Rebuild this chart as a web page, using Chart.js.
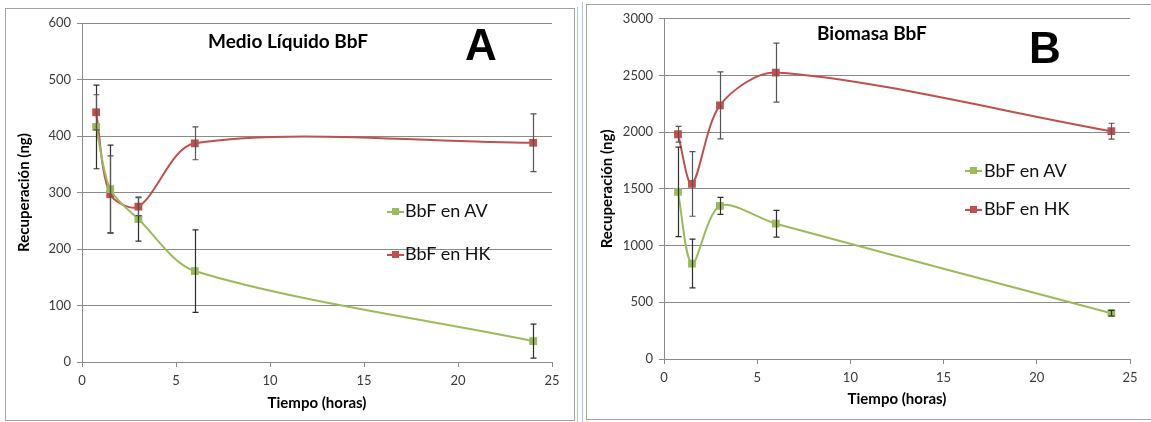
<!DOCTYPE html>
<html>
<head>
<meta charset="utf-8">
<script src="https://cdn.jsdelivr.net/npm/chart.js@4.4.1/dist/chart.umd.min.js"></script>
<style>
  html, body { margin: 0; padding: 0; background: #ffffff; }
  body { width: 1151px; height: 422px; position: relative; overflow: hidden; font-family: Lato, "Open Sans", sans-serif; }
  canvas { position: absolute; }
  .frame { position: absolute; box-sizing: border-box; border: 1px solid #a3a3a3; }
  .vline { position: absolute; width: 1px; background: #a9c4ea; }
  .txt { position: absolute; white-space: nowrap; line-height: 1; color: #000; }
  .title { font-family: Lato, sans-serif; font-weight: bold; font-size: 19px; }
  .letter { font-family: "Liberation Sans", Arial, sans-serif; font-weight: bold; font-size: 44px; }
  .leg { font-family: Lato, sans-serif; font-size: 18px; color: #111; }
  .legmark { position: absolute; height: 2px; }
  .legsq { position: absolute; width: 7px; height: 7px; }
</style>
</head>
<body>
<div class="frame" style="left:5px; top:8px; width:570px; height:413px;"></div>
<div class="vline" style="left:577px; top:7px; height:415px;"></div>
<div class="vline" style="left:582px; top:2px; height:420px;"></div>
<div class="frame" style="left:586px; top:4px; width:600px; height:416px;"></div>

<canvas id="chartA" width="569" height="412" style="left:5px; top:8px;"></canvas>
<canvas id="chartB" width="565" height="415" style="left:586px; top:5px;"></canvas>

<div class="txt title" style="left:208px; top:31px;">Medio Líquido BbF</div>
<div class="txt letter" style="left:465px; top:23px;">A</div>
<div class="txt title" style="left:817px; top:23px;">Biomasa BbF</div>
<div class="txt letter" style="left:1029px; top:26px;">B</div>

<div class="legmark" style="left:387px; top:211px; width:17px; background:#9bbb59;"></div>
<div class="legsq" style="left:392px; top:208px; background:#9bbb59;"></div>
<div class="txt leg" style="left:405px; top:201px;">BbF en AV</div>
<div class="legmark" style="left:387px; top:254px; width:17px; background:#c0504d;"></div>
<div class="legsq" style="left:392px; top:251px; background:#c0504d;"></div>
<div class="txt leg" style="left:405px; top:244px;">BbF en HK</div>

<div class="legmark" style="left:965px; top:170px; width:17px; background:#9bbb59;"></div>
<div class="legsq" style="left:970px; top:167px; background:#9bbb59;"></div>
<div class="txt leg" style="left:984px; top:161px;">BbF en AV</div>
<div class="legmark" style="left:965px; top:209px; width:17px; background:#c0504d;"></div>
<div class="legsq" style="left:970px; top:206px; background:#c0504d;"></div>
<div class="txt leg" style="left:984px; top:199px;">BbF en HK</div>

<script>
// ---- Data ----
const hours = [0.75, 1.5, 3, 6, 24];

// Panel A: Medio Líquido BbF
const avA    = [416, 306, 253, 161, 37];
const avAErr = [74, 78, 39, 73, 30];
const hkA    = [442, 297, 275, 387, 388];
const hkAErr = [31, 68, 16, 29, 51];

// Panel B: Biomasa BbF
const avB    = [1474, 842, 1351, 1193, 404];
const avBErr = [395, 215, 75, 118, 25];
const hkB    = [1982, 1544, 2237, 2526, 2009];
const hkBErr = [70, 285, 295, 260, 70];

const seriesNames = ['BbF en AV', 'BbF en HK'];
const xTitle = 'Tiempo (horas)';
const yTitle = 'Recuperación (ng)';

const GREEN = '#9bbb59';
const RED = '#c0504d';
const GRID = '#8a8a8a';
const TICK = '#3a3a3a';

const errorBarPlugin = {
  id: 'errorBars',
  afterDatasetsDraw(chart) {
    const ctx = chart.ctx;
    const xs = chart.scales.x, ys = chart.scales.y;
    ctx.save();
    chart.data.datasets.forEach(ds => {
      if (!ds.errors) return;
      ds.data.forEach((p, i) => {
        const e = ds.errors[i];
        const px = Math.round(xs.getPixelForValue(p.x)) + 0.5;
        const top = ys.getPixelForValue(p.y + e);
        const bot = ys.getPixelForValue(Math.max(p.y - e, 0));
        ctx.strokeStyle = ds.errorColor || '#404040';
        ctx.lineWidth = 1.2;
        ctx.beginPath();
        ctx.moveTo(px, top); ctx.lineTo(px, bot);
        ctx.moveTo(px - 3, top); ctx.lineTo(px + 3, top);
        ctx.moveTo(px - 3, bot); ctx.lineTo(px + 3, bot);
        ctx.stroke();
      });
    });
    ctx.restore();
  }
};

function mkDataset(label, vals, errs, color, errColor) {
  return {
    label,
    data: hours.map((h, i) => ({ x: h, y: vals[i] })),
    errors: errs,
    errorColor: errColor,
    showLine: true,
    borderColor: color,
    backgroundColor: color,
    borderWidth: 2,
    pointStyle: 'rect',
    pointRadius: 5.5,
    pointBorderWidth: 0,
    pointBackgroundColor: color,
    tension: 0.3
  };
}

function mkChart(id, av, avErr, hk, hkErr, yMax, yStep, pad, yWidth, xHeight) {
  return new Chart(document.getElementById(id), {
    type: 'scatter',
    data: {
      datasets: [
        mkDataset(seriesNames[0], av, avErr, GREEN, '#2e2e2e'),
        mkDataset(seriesNames[1], hk, hkErr, RED, '#555555')
      ]
    },
    plugins: [errorBarPlugin],
    options: {
      responsive: false,
      animation: false,
      devicePixelRatio: 1,
      layout: { padding: pad },
      plugins: { legend: { display: false }, tooltip: { enabled: false } },
      scales: {
        x: {
          type: 'linear', min: 0, max: 25,
          ticks: { stepSize: 5, color: TICK, font: { family: 'Lato', size: 13 }, padding: 6, maxRotation: 0,
                   callback: v => String(v) },
          grid: { display: true, drawOnChartArea: false, drawTicks: true, tickLength: 5, color: GRID },
          border: { color: GRID, width: 1 },
          title: { display: true, text: xTitle, color: '#000', font: { family: 'Lato', size: 15, weight: 'bold' }, padding: { top: 4, bottom: 4 } },
          afterFit(s) { s.height = xHeight; }
        },
        y: {
          type: 'linear', min: 0, max: yMax,
          ticks: { stepSize: yStep, color: TICK, font: { family: 'Lato', size: 13 }, padding: 6,
                   callback: v => String(v) },
          grid: { color: GRID, tickLength: 5, drawTicks: true },
          border: { color: GRID, width: 1 },
          title: { display: true, text: yTitle, color: '#000', font: { family: 'Lato', size: 15, weight: 'bold' }, padding: { top: 4, bottom: 4 } },
          afterFit(s) { s.width = yWidth; }
        }
      }
    }
  });
}

mkChart('chartA', avA, avAErr, hkA, hkAErr, 600, 100, { left: 6, top: 15, right: 22, bottom: 4 }, 71, 54);
mkChart('chartB', avB, avBErr, hkB, hkBErr, 3000, 500, { left: 8, top: 12, right: 21, bottom: 8 }, 70, 53);
</script>
</body>
</html>
